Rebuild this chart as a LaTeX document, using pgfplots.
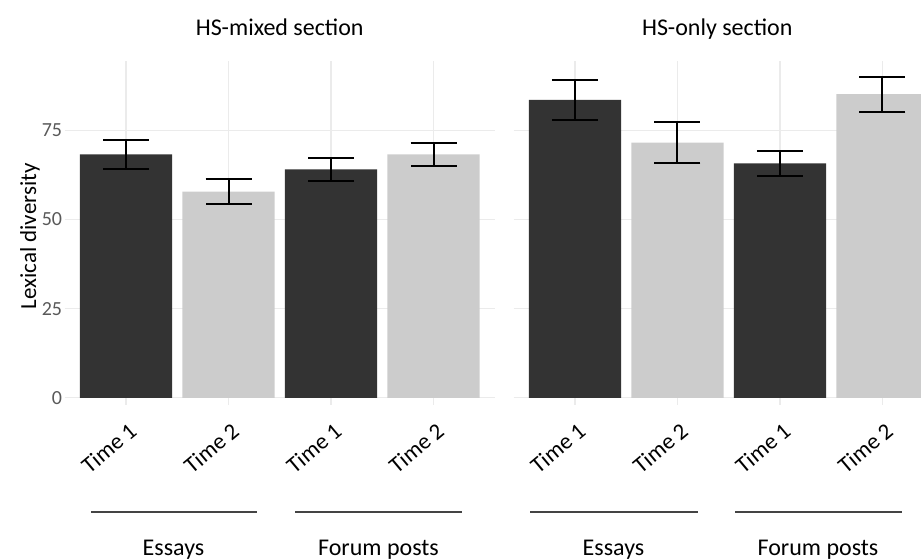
\documentclass[border=0pt]{standalone}
\usepackage{fontspec}
\setmainfont{Carlito}
\usepackage{pgfplots}
\pgfplotsset{compat=1.18}
\usepackage{pgfplotstable}
\definecolor{darkbar}{HTML}{333333}
\definecolor{lightbar}{HTML}{CCCCCC}
\definecolor{gridc}{HTML}{EBEBEB}
\definecolor{ticktext}{HTML}{595959}
\definecolor{rulec}{HTML}{444444}

% HS-mixed section
\pgfplotstableread{
x y e
0 68.2 4.0
2 64.0 3.3
}\mixdark
\pgfplotstableread{
x y e
1 57.8 3.4
3 68.2 3.2
}\mixlight
% HS-only section
\pgfplotstableread{
x y e
0 83.5 5.5
2 65.7 3.6
}\onlydark
\pgfplotstableread{
x y e
1 71.5 5.8
3 85.1 4.9
}\onlylight

\pgfplotsset{panel/.style={
  scale only axis, height=172pt,
  ymin=-2, ymax=94.4, xmin=-0.6,
  axis line style={draw=none}, tick style={draw=none}, major tick length=0pt,
  grid=major, major grid style={gridc, line width=0.6pt},
  xtick={0,1,2,3}, xticklabels={Time 1,Time 2,Time 1,Time 2},
  ytick={0,25,50,75},
  xticklabel style={font=\fontsize{11.5}{13}\selectfont, yshift=-8pt, xshift=1pt, rotate=40, anchor=north east, inner sep=0pt},
  yticklabel style={font=\fontsize{10}{12}\selectfont, text=ticktext, inner sep=0pt, xshift=-1pt},
  /pgf/number format/assume math mode=true,
  title style={font=\fontsize{12}{14}\selectfont, at={(axis description cs:0.5,1)}, anchor=base, yshift=6.5pt},
},
barplot/.style={ybar, bar width=0.9, bar shift=0pt, draw=none,
  error bars/.cd, y dir=both, y explicit, error mark=|,
  error mark options={line width=1pt, mark size=11.5pt, black},
  error bar style={line width=1pt, black}}
}

\begin{document}
\begin{tikzpicture}
\useasboundingbox (0,0) rectangle (460.5pt,-280pt);

\begin{axis}[panel, at={(32.25pt,-202.5pt)}, anchor=south west,
  width=215.25pt, xmax=3.6,
  title={HS-mixed section},
  ylabel={Lexical diversity},
  every axis y label/.style={at={(axis description cs:0,0.49)}, anchor=center, xshift=-17.25pt, rotate=90, font=\fontsize{11.5}{13}\selectfont}]
\addplot[fill=darkbar, barplot] table[x=x, y=y, y error=e] {\mixdark};
\addplot[fill=lightbar, barplot] table[x=x, y=y, y error=e] {\mixlight};
\end{axis}

\begin{axis}[panel, at={(256.75pt,-202.5pt)}, anchor=south west,
  width=203.75pt, xmax=3.376,
  yticklabels={},
  title={HS-only section}]
\addplot[fill=darkbar, barplot] table[x=x, y=y, y error=e] {\onlydark};
\addplot[fill=lightbar, barplot] table[x=x, y=y, y error=e] {\onlylight};
\end{axis}

\begin{scope}[x=0.5pt, y=-0.5pt]
\draw[rulec, line width=1pt] (91,512) -- (257,512);
\draw[rulec, line width=1pt] (295,512) -- (462,512);
\draw[rulec, line width=1pt] (530,512) -- (698,512);
\draw[rulec, line width=1pt] (735,512) -- (902,512);
\node[anchor=base, font=\fontsize{12}{14}\selectfont] at (173.5,556) {Essays};
\node[anchor=base, font=\fontsize{12}{14}\selectfont] at (378.5,556) {Forum posts};
\node[anchor=base, font=\fontsize{12}{14}\selectfont] at (613.5,556) {Essays};
\node[anchor=base, font=\fontsize{12}{14}\selectfont] at (818,556) {Forum posts};
\end{scope}
\end{tikzpicture}
\end{document}
